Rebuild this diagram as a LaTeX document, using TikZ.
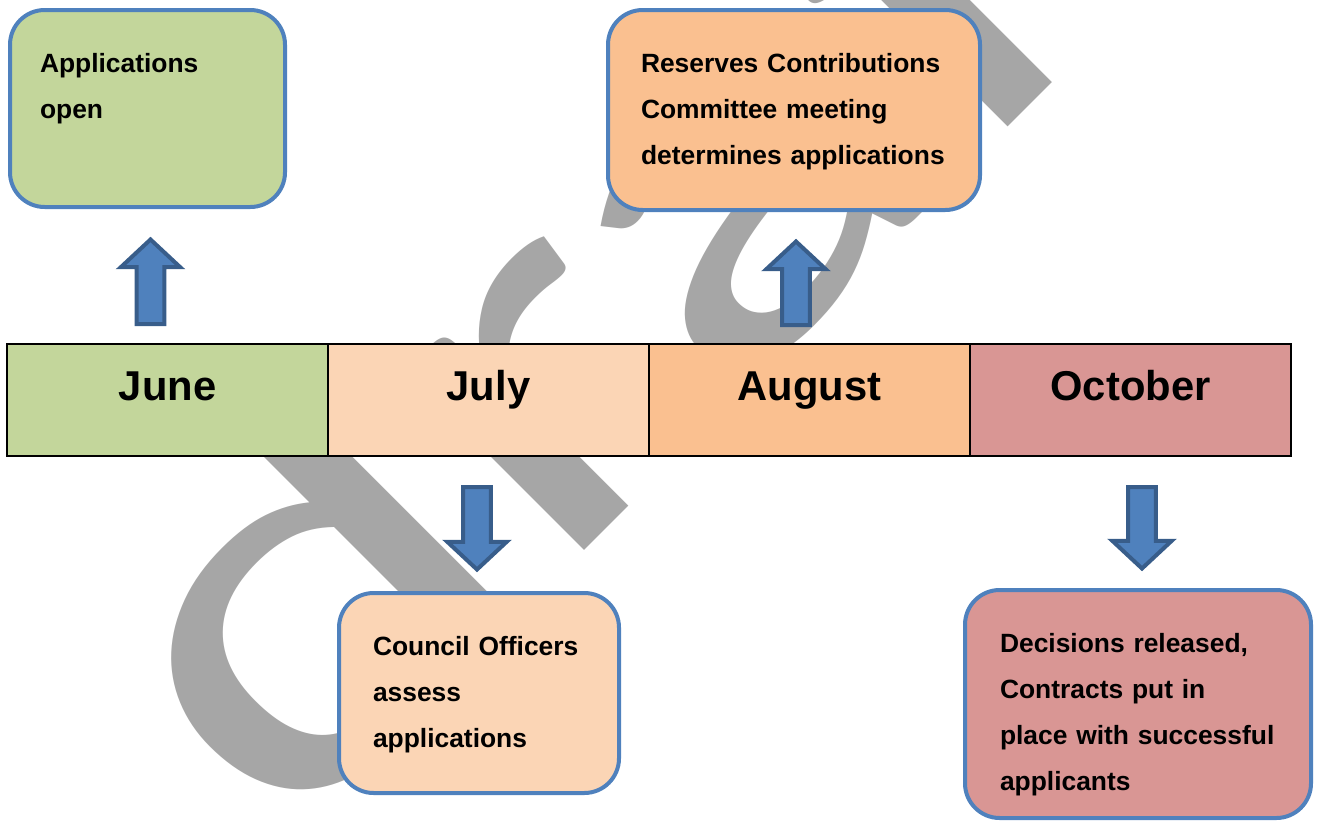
\documentclass[tikz,border=0pt]{standalone}
\usepackage{fontspec}
\setmainfont{Liberation Sans}
\newfontfamily\wmfont{Carlito}
\usetikzlibrary{positioning,calc}

\definecolor{junegreen}{HTML}{C3D69B}
\definecolor{julypeach}{HTML}{FBD5B5}
\definecolor{augorange}{HTML}{FAC090}
\definecolor{octrose}{HTML}{D99694}
\definecolor{boxblue}{HTML}{4F81BD}
\definecolor{arrowedge}{HTML}{385D8A}
\definecolor{wmgrey}{HTML}{A6A6A6}

\begin{document}
\begin{tikzpicture}
  [x=0.75pt,y=-0.75pt,outer sep=0pt,
   month/.style={rectangle,draw=black,line width=1.2pt,minimum width=240.75pt,
     minimum height=84pt,text height=22pt,text depth=22pt,
     font=\fontsize{31.3}{36}\selectfont\bfseries},
   note/.style={rectangle,rounded corners=26pt,draw=boxblue,line width=3pt,
     anchor=north west,align=left,inner ysep=0pt,text height=46.5pt,
     font=\fontsize{19.8}{34.5}\selectfont\bfseries},
   blockarrow/.style={fill=boxblue,draw=arrowedge,line width=3pt,line join=miter}]
  \useasboundingbox (0,0) rectangle (1317,821);

  % watermark
  \node[rotate=45,xscale=1.377,anchor=base west,text=wmgrey,
    font=\wmfont\fontsize{397.5}{397.5}\selectfont] (wm) at (276,859) {draft};

  % timeline
  \node[month,fill=junegreen] (june) at (167.5,400) {June};
  \node[month,fill=julypeach,right=0pt of june] (july) {July};
  \node[month,fill=augorange,right=0pt of july] (august) {August};
  \node[month,fill=octrose,right=0pt of august] (october) {October};

  % notes
  \node[note,fill=junegreen,inner xsep=22.5pt,text width=161.25pt,
    text depth=101.25pt] (open) at (10,10) {Applications\\open};
  \node[note,fill=augorange,inner xsep=24.75pt,text width=229.5pt,
    text depth=103.5pt] (meeting) at (608,10)
    {Reserves Contributions\\Committee meeting\\determines applications};
  \node[note,fill=julypeach,inner xsep=25.5pt,text width=159pt,
    text depth=103.5pt] (assess) at (339,593)
    {Council Officers\\assess\\applications};
  \node[note,fill=octrose,inner xsep=26.25pt,text width=207pt,
    text depth=124.5pt] (results) at (965,590)
    {Decisions released,\\Contracts put in\\place with successful\\applicants};

  % arrows
  \coordinate (t1) at ($(june.north -| open.south)+(3,-20)$);
  \coordinate (h1) at ($(open.south)+(3,32.5)$);
  \coordinate (t2) at ($(august.north -| meeting.south)+(2,-19)$);
  \coordinate (h2) at ($(meeting.south)+(2,31.5)$);
  \coordinate (t3) at ($(july.south -| assess.north)+(-2,31)$);
  \coordinate (h3) at ($(assess.north)+(-2,-23.5)$);
  \coordinate (t4) at ($(october.south -| results.north)+(4,31)$);
  \coordinate (h4) at ($(results.north)+(4,-21.5)$);

  \foreach \from/\to in {t1/h1,t2/h2,t3/h3,t4/h4}{
    \coordinate (hb) at ($(\to)!20.8pt!(\from)$);
    \draw[blockarrow] ($(\from)!10.4pt!90:(\to)$) -- ($(hb)!10.4pt!90:(\to)$)
      -- ($(hb)!22.3pt!90:(\to)$) -- (\to) -- ($(hb)!22.3pt!-90:(\to)$)
      -- ($(hb)!10.4pt!-90:(\to)$) -- ($(\from)!10.4pt!-90:(\to)$) -- cycle;
  }

\end{tikzpicture}
\end{document}
